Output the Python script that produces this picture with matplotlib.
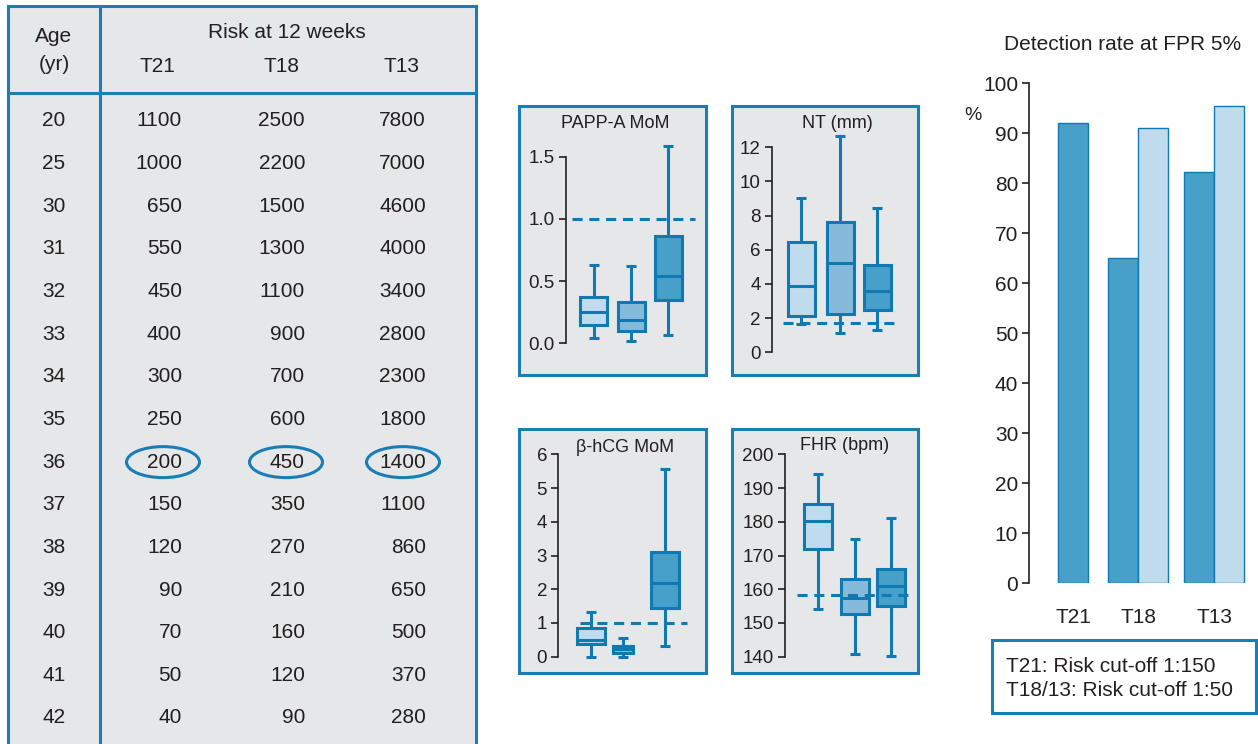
import matplotlib
matplotlib.use('Agg')
import matplotlib.pyplot as plt
from matplotlib.patches import Rectangle, Ellipse

plt.rcParams['font.family'] = ['Liberation Sans', 'DejaVu Sans']

W, H = 1258, 744
BLUE = '#1a7db6'
EDGE = '#1179b1'
GREY_BG = '#e6e7e8'
TXT = '#231f20'
LIGHT = '#c0dbec'
MID = '#86bada'
DARK = '#47a0c9'

# risk table
ages = [20, 25, 30, 31, 32, 33, 34, 35, 36, 37, 38, 39, 40, 41, 42]
risk_t21 = [1100, 1000, 650, 550, 450, 400, 300, 250, 200, 150, 120, 90, 70, 50, 40]
risk_t18 = [2500, 2200, 1500, 1300, 1100, 900, 700, 600, 450, 350, 270, 210, 160, 120, 90]
risk_t13 = [7800, 7000, 4600, 4000, 3400, 2800, 2300, 1800, 1400, 1100, 860, 650, 500, 370, 280]
risk_cols = ['T21', 'T18', 'T13']
highlight_age = 36

# box plots: (low whisker, Q1, median, Q3, high whisker) for T21, T18, T13
papp_a = [(0.04, 0.145, 0.25, 0.375, 0.63),
          (0.02, 0.096, 0.19, 0.33, 0.62),
          (0.064, 0.345, 0.545, 0.865, 1.59)]
nt_mm = [(1.64, 2.15, 3.9, 6.44, 9.05),
         (1.11, 2.24, 5.23, 7.65, 12.68),
         (1.33, 2.5, 3.61, 5.13, 8.43)]
bhcg = [(0.0, 0.375, 0.49, 0.86, 1.33),
        (0.0, 0.12, 0.23, 0.33, 0.56),
        (0.32, 1.43, 2.19, 3.11, 5.56)]
fhr = [(154.1, 172.0, 180.1, 185.2, 194.1),
       (140.9, 152.8, 157.3, 163.1, 175.0),
       (140.1, 154.9, 161.0, 166.1, 181.0)]
normal_papp, normal_nt, normal_bhcg, normal_fhr = 1.0, 1.7, 1.0, 158.3

# detection rate at FPR 5%
dr_groups = ['T21', 'T18', 'T13']
dr_dark = [92.1, 65.1, 82.3]
dr_light = [None, 91.1, 95.5]
cutoff_notes = ['T21: Risk cut-off 1:150', 'T18/13: Risk cut-off 1:50']

fig = plt.figure(figsize=(W / 100, H / 100), dpi=100)


def px_axes(x0, y0, x1, y1):
    return fig.add_axes([x0 / W, 1 - y1 / H, (x1 - x0) / W, (y1 - y0) / H])


# overlay in pixel coordinates for table, frames and labels
bg = px_axes(0, 0, W, H)
bg.set_xlim(0, W)
bg.set_ylim(H, 0)
bg.axis('off')

# table
bg.add_patch(Rectangle((8, 6), 468, 780, facecolor=GREY_BG, edgecolor=BLUE, lw=2.2))
bg.plot([99.5, 99.5], [6, 760], color=BLUE, lw=2.2)
bg.plot([8, 476], [93, 93], color=BLUE, lw=2.2)
bg.text(54, 37, 'Age', ha='center', va='center', fontsize=15, color=TXT)
bg.text(54, 65, '(yr)', ha='center', va='center', fontsize=15, color=TXT)
bg.text(287, 32, 'Risk at 12 weeks', ha='center', va='center', fontsize=15, color=TXT)
head_x = [157, 282, 402]
val_right = [182, 305, 426]
ell_x = [163, 286, 403]
for hx, name in zip(head_x, risk_cols):
    bg.text(hx, 66, name, ha='center', va='center', fontsize=15, color=TXT)
for i, age in enumerate(ages):
    y = 121 + i * 42.64
    bg.text(54, y, str(age), ha='center', va='center', fontsize=15, color=TXT)
    for xr, col in zip(val_right, [risk_t21, risk_t18, risk_t13]):
        bg.text(xr, y, str(col[i]), ha='right', va='center', fontsize=15, color=TXT)
    if age == highlight_age:
        for ex in ell_x:
            bg.add_patch(Ellipse((ex, y), 73, 31, fill=False, edgecolor=BLUE, lw=2.2))


def box_panel(frame, spine_x, v0, p0, v1, p1, centers, widths, data, ref,
              dash_x, title, title_xy, ticks, ticklabels):
    fx0, fy0, fx1, fy1 = frame
    bg.add_patch(Rectangle((fx0, fy0), fx1 - fx0, fy1 - fy0, facecolor=GREY_BG,
                           edgecolor=BLUE, lw=2.2))
    bg.text(title_xy[0], title_xy[1], title, ha='center', va='center',
            fontsize=13, color=TXT)
    ay0, ay1 = fy0 + 4, fy1 - 4
    ax = px_axes(spine_x, ay0, fx1 - 4, ay1)
    ax.patch.set_visible(False)
    scale = (v1 - v0) / (p0 - p1)
    ax.set_ylim(v0 + (p0 - ay1) * scale, v0 + (p0 - ay0) * scale)
    ax.set_xlim(spine_x, fx1 - 4)
    stats = [dict(whislo=d[0], q1=d[1], med=d[2], q3=d[3], whishi=d[4], fliers=[])
             for d in data]
    lp = dict(color=EDGE, linewidth=2.2, solid_capstyle='butt')
    bp = ax.bxp(stats, positions=centers, widths=widths, capwidths=10,
                patch_artist=True, showfliers=False,
                boxprops=dict(edgecolor=EDGE, linewidth=2.2),
                whiskerprops=lp, capprops=lp, medianprops=lp, manage_ticks=False)
    for patch, c in zip(bp['boxes'], [LIGHT, MID, DARK]):
        patch.set_facecolor(c)
    ax.plot(dash_x, [ref, ref], color=EDGE, lw=2.2, linestyle=(0, (3.3, 2.2)), zorder=4)
    for s in ['top', 'right', 'bottom']:
        ax.spines[s].set_visible(False)
    ax.spines['left'].set_bounds(ticks[0], ticks[-1])
    ax.spines['left'].set_color(TXT)
    ax.spines['left'].set_linewidth(1.2)
    ax.set_xticks([])
    ax.set_yticks(ticks)
    ax.set_yticklabels(ticklabels)
    ax.tick_params(axis='y', length=5, width=1.2, color=TXT, labelsize=13.5,
                   labelcolor=TXT, pad=3)
    return ax


box_panel((519, 106, 706, 375), 566, 0.0, 343.3, 1.5, 156.7,
          [593.5, 631, 668], [27, 27, 27], papp_a, normal_papp, [572, 695],
          'PAPP-A MoM', (615, 124), [0, 0.5, 1.0, 1.5], ['0.0', '0.5', '1.0', '1.5'])
box_panel((732, 106, 918, 375), 771.7, 0, 352.3, 12, 147.3,
          [801, 840, 877], [27, 27, 27], nt_mm, normal_nt, [783, 898],
          'NT (mm)', (837, 123), list(range(0, 13, 2)), [str(t) for t in range(0, 13, 2)])
box_panel((519, 429, 706, 673), 558.3, 0, 656.7, 6, 454.3,
          [590.5, 622.5, 665], [28, 20, 28], bhcg, normal_bhcg, [580, 687],
          'β-hCG MoM', (625, 447), list(range(0, 7)), [str(t) for t in range(0, 7)])
box_panel((732, 429, 918, 673), 785, 140, 656.7, 200, 454.3,
          [817.5, 854.5, 891], [28, 28, 28], fhr, normal_fhr, [797, 914],
          'FHR (bpm)', (845, 446), list(range(140, 201, 10)),
          [str(t) for t in range(140, 201, 10)])

# detection rate bars
bax = px_axes(1029.3, 83.3, 1252, 583.3)
bax.patch.set_visible(False)
bax.set_xlim(1029.3, 1252)
bax.set_ylim(0, 100)
group_x = [1073.3, 1138.3, 1214.1]
bw = 30
for gx, d, l in zip(group_x, dr_dark, dr_light):
    if l is None:
        bax.bar(gx, d, width=bw, color=DARK, edgecolor=EDGE, lw=1)
    else:
        bax.bar(gx - bw / 2, d, width=bw, color=DARK, edgecolor=EDGE, lw=1)
        bax.bar(gx + bw / 2, l, width=bw, color=LIGHT, edgecolor=EDGE, lw=1)
for s in ['top', 'right', 'bottom']:
    bax.spines[s].set_visible(False)
bax.spines['left'].set_color(TXT)
bax.spines['left'].set_linewidth(1.2)
bax.set_yticks(range(0, 101, 10))
bax.tick_params(axis='y', length=5, width=1.2, color=TXT, labelsize=15,
                labelcolor=TXT, pad=3)
bax.set_xticks(group_x)
bax.set_xticklabels(dr_groups)
bax.tick_params(axis='x', length=0, labelsize=15, labelcolor=TXT, pad=18)

bg.text(1123, 45, 'Detection rate at FPR 5%', ha='center', va='center',
        fontsize=15, color=TXT)
bg.text(973, 115, '%', ha='center', va='center', fontsize=14, color=TXT)
bg.add_patch(Rectangle((992, 640), 264, 73, facecolor='white', edgecolor=BLUE, lw=2.2))
for k, note in enumerate(cutoff_notes):
    bg.text(1006.5, 666.5 + k * 23.5, note, ha='left', va='center', fontsize=15, color=TXT)

fig.savefig('out.png', dpi=100)
